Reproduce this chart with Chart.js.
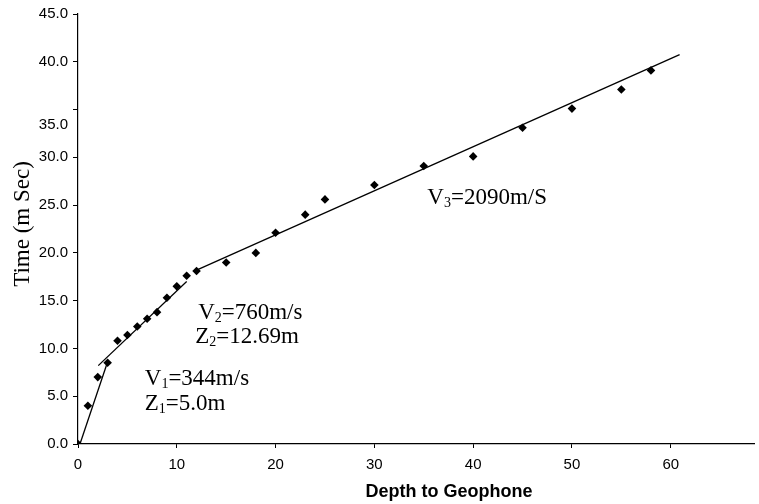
<!DOCTYPE html>
<html>
<head>
<meta charset="utf-8">
<script src="https://cdn.jsdelivr.net/npm/chart.js@4.4.0/dist/chart.umd.min.js"></script>
<style>
  html, body { margin: 0; padding: 0; background: #fff; }
  #wrap { width: 759px; height: 504px; }
</style>
</head>
<body>
<div id="wrap"><canvas id="chart" width="759" height="504"></canvas></div>
<script>
// observed travel times
const depth = [0, 1, 2, 3, 4, 5, 6, 7, 8, 9, 10, 11, 12, 15, 18, 20, 23, 25, 30, 35, 40, 45, 50, 55, 58];
const time  = [0, 4.0, 7.0, 8.5, 10.8, 11.4, 12.3, 13.1, 13.8, 15.3, 16.5, 17.6, 18.1, 19.0, 20.0, 22.1, 24.0, 25.6, 27.1, 29.1, 30.1, 33.1, 35.1, 37.1, 39.1];

// fitted segments (end points)
const fit1X = [0.2, 3.0];   const fit1Y = [0, 8.6];
const fit2X = [2.05, 11.0]; const fit2Y = [8.2, 17.0];
const fit3X = [12.0, 60.9]; const fit3Y = [18.2, 40.75];

// tick labels
const xTicks = [0, 10, 20, 30, 40, 50, 60];
const yTickValues = [0, 5, 10, 15, 20, 25, 30, 33.4, 35, 40, 45];
const yTickLabels = ['0.0', '5.0', '10.0', '15.0', '20.0', '25.0', '30.0', '35.0', '', '40.0', '45.0'];

// text labels: main, subscript, rest, anchored in data units
const notes = [
  { main: 'V', sub: '3', rest: '=2090m/S', x: 35.36, y: 25.1 },
  { main: 'V', sub: '2', rest: '=760m/s',  x: 12.16, y: 13.1 },
  { main: 'Z', sub: '2', rest: '=12.69m',  x: 11.86, y: 10.55 },
  { main: 'V', sub: '1', rest: '=344m/s',  x: 6.76,  y: 6.2 },
  { main: 'Z', sub: '1', rest: '=5.0m',    x: 6.76,  y: 3.6 }
];

const toPts = (xs, ys) => xs.map((x, i) => ({x: x, y: ys[i]}));

function fitLine(xs, ys) {
  return {
    data: toPts(xs, ys),
    showLine: true,
    borderColor: '#000',
    borderWidth: 1.3,
    pointRadius: 0,
    pointHoverRadius: 0,
    fill: false
  };
}

const textPlugin = {
  id: 'textPlugin',
  afterDatasetsDraw(chart) {
    const ctx = chart.ctx;
    const xs = chart.scales.x, ys = chart.scales.y;
    ctx.save();
    ctx.fillStyle = '#000';
    ctx.textBaseline = 'alphabetic';
    ctx.textAlign = 'left';
    notes.forEach(n => {
      let px = xs.getPixelForValue(n.x);
      const py = ys.getPixelForValue(n.y);
      ctx.font = '23px "Liberation Serif"';
      ctx.fillText(n.main, px, py);
      px += ctx.measureText(n.main).width;
      ctx.font = '14px "Liberation Serif"';
      ctx.fillText(n.sub, px, py + 3);
      px += ctx.measureText(n.sub).width;
      ctx.font = '23px "Liberation Serif"';
      ctx.fillText(n.rest, px, py);
    });
    // axis titles
    ctx.font = 'bold 18px "Liberation Sans"';
    ctx.textAlign = 'center';
    ctx.fillText('Depth to Geophone', 449, 497);
    ctx.translate(29, 224);
    ctx.rotate(-Math.PI / 2);
    ctx.font = '23px "Liberation Serif"';
    ctx.fillText('Time (m Sec)', 0, 0);
    ctx.restore();
  }
};

new Chart(document.getElementById('chart'), {
  type: 'scatter',
  data: {
    datasets: [
      {
        data: toPts(depth, time),
        pointStyle: 'rectRot',
        pointRadius: 4.3,
        pointHoverRadius: 4.3,
        backgroundColor: '#000',
        borderColor: '#000',
        borderWidth: 0
      },
      fitLine(fit1X, fit1Y),
      fitLine(fit2X, fit2Y),
      fitLine(fit3X, fit3Y)
    ]
  },
  options: {
    responsive: false,
    animation: false,
    devicePixelRatio: 1,
    layout: { padding: { top: 14, right: 0, bottom: 0, left: 0 } },
    plugins: {
      legend: { display: false },
      title: { display: false },
      tooltip: { enabled: false }
    },
    scales: {
      x: {
        type: 'linear',
        min: 0,
        max: 68.5,
        afterBuildTicks: s => { s.ticks = xTicks.map(v => ({value: v})); },
        afterFit: s => { s.height = 60; },
        border: { display: true, color: '#000', width: 1.2 },
        grid: { display: true, drawOnChartArea: false, drawTicks: true, tickLength: 4, color: '#000' },
        ticks: { color: '#000', padding: 8, font: { family: 'Liberation Sans', size: 15 } }
      },
      y: {
        type: 'linear',
        min: 0,
        max: 45,
        afterBuildTicks: s => { s.ticks = yTickValues.map(v => ({value: v})); },
        afterFit: s => { s.width = 78; },
        border: { display: true, color: '#000', width: 1.2 },
        grid: {
          display: true,
          drawOnChartArea: false,
          drawTicks: true,
          tickLength: 5,
          color: '#000',
          tickColor: c => (c.tick && yTickLabels[c.index] === '35.0') ? 'rgba(0,0,0,0)' : '#000'
        },
        ticks: {
          color: '#000',
          padding: 5,
          font: { family: 'Liberation Sans', size: 15 },
          callback: (v, i) => yTickLabels[i]
        }
      }
    }
  },
  plugins: [textPlugin]
});
</script>
</body>
</html>
